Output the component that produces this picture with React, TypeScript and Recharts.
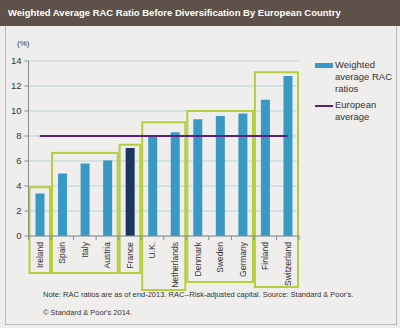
import { ComposedChart, Bar, Line, XAxis, YAxis, CartesianGrid, ReferenceArea, Cell } from 'recharts'

const countries = ['Ireland', 'Spain', 'Italy', 'Austria', 'France', 'U.K.', 'Netherlands', 'Denmark', 'Sweden', 'Germany', 'Finland', 'Switzerland']
const racRatios = [3.4, 5.0, 5.8, 6.05, 7.05, 8.0, 8.3, 9.35, 9.6, 9.8, 10.9, 12.8]
const europeanAverage = [8, 8, 8, 8, 8, 8, 8, 8, 8, 8, 8, 8]
const yTicks = [0, 2, 4, 6, 8, 10, 12, 14]
const highlighted = 'France'

// country groupings outlined in green
const groupFrom = ['Ireland', 'Spain', 'France', 'U.K.', 'Denmark', 'Finland']
const groupTo = ['Ireland', 'Austria', 'France', 'Netherlands', 'Germany', 'Switzerland']
const groupTop = [3.9, 6.65, 7.3, 9.1, 10.0, 13.1]

// how far (px) each box reaches under the axis, to wrap the labels
const groupDepth = [37, 37, 37, 54, 46, 51]

const BLUE = '#3a98c5'
const NAVY = '#1d365f'
const PURPLE = '#5b1f80'
const GREEN = '#b6cd3e'
const FONT = '"Liberation Sans", Arial, sans-serif'

const PLOT_LEFT = 28.5
const PLOT_RIGHT = 299
const BAND = (PLOT_RIGHT - PLOT_LEFT) / countries.length
const AXIS_Y = 236

const data = countries.map((name, i) => ({ name, rac: racRatios[i], avg: europeanAverage[i] }))

function CountryTick(props: any) {
  const { x, payload, index } = props
  const left = x - BAND / 2
  return (
    <g>
      <line x1={left} x2={left} y1={AXIS_Y} y2={AXIS_Y + 4} stroke="#8a8a8a" />
      {index === countries.length - 1 && (
        <line x1={x + BAND / 2} x2={x + BAND / 2} y1={AXIS_Y} y2={AXIS_Y + 4} stroke="#8a8a8a" />
      )}
      <text
        x={x}
        y={AXIS_Y + 6}
        transform={`rotate(-90 ${x} ${AXIS_Y + 6})`}
        textAnchor="end"
        dominantBaseline="central"
        fontSize={8.5}
        fontFamily={FONT}
        fill="#333"
      >
        {payload.value}
      </text>
    </g>
  )
}

function GroupBox(depth: number) {
  return (props: any) => {
    const { x, y, width, height } = props
    return (
      <rect
        x={x + 1}
        y={y}
        width={width - 2}
        height={height + depth}
        fill="none"
        stroke={GREEN}
        strokeWidth={2}
      />
    )
  }
}

export default function App() {
  return (
    <div style={{ position: 'absolute', left: 0, top: 0, width: 400, height: 328, background: '#efeeec', overflow: 'hidden', fontFamily: FONT }}>
      <div style={{ height: 26, background: '#5e514a', color: '#fff', fontWeight: 'bold', fontSize: 9.5, lineHeight: '26px', paddingLeft: 8 }}>
        Weighted Average RAC Ratio Before Diversification By European Country
      </div>
      <div style={{ position: 'absolute', left: 5, top: 26, width: 390, height: 298, borderLeft: '1px solid #b8b8b8', borderRight: '1px solid #b8b8b8', borderBottom: '1px solid #b8b8b8' }} />
      <div style={{ position: 'absolute', left: 17, top: 39, fontSize: 8, color: '#333' }}>(%)</div>

      <div style={{ position: 'absolute', left: 0, top: 0 }}>
        <ComposedChart width={400} height={328} data={data} margin={{ top: 61, right: 101, bottom: 32, left: 0 }}>
          <CartesianGrid vertical={false} stroke="#b7d5da" />
          <XAxis
            dataKey="name"
            height={60}
            interval={0}
            tickLine={false}
            axisLine={{ stroke: '#8a8a8a' }}
            tick={<CountryTick />}
          />
          <YAxis
            width={PLOT_LEFT}
            domain={[0, 14]}
            ticks={yTicks}
            tickSize={4}
            tickMargin={3}
            axisLine={{ stroke: '#8a8a8a' }}
            tickLine={{ stroke: '#8a8a8a' }}
            tick={{ fontSize: 9.5, fill: '#333', fontFamily: FONT }}
          />
          <Bar dataKey="rac" barSize={9} isAnimationActive={false}>
            {data.map((d) => (
              <Cell key={d.name} fill={d.name === highlighted ? NAVY : BLUE} />
            ))}
          </Bar>
          <Line dataKey="avg" stroke={PURPLE} strokeWidth={2} dot={false} activeDot={false} isAnimationActive={false} />
          {groupFrom.map((from, i) => (
            <ReferenceArea
              key={from}
              x1={from}
              x2={groupTo[i]}
              y1={0}
              y2={groupTop[i]}
              ifOverflow="visible"
              shape={GroupBox(groupDepth[i])}
            />
          ))}
        </ComposedChart>
      </div>

      <div style={{ position: 'absolute', left: 315, top: 59, fontSize: 9.5, color: '#333', lineHeight: '12px' }}>
        <div style={{ display: 'flex' }}>
          <div style={{ width: 18, height: 5, background: BLUE, marginTop: 4, marginRight: 2, flexShrink: 0 }} />
          <div>Weighted<br />average RAC<br />ratios</div>
        </div>
        <div style={{ display: 'flex', marginTop: 4 }}>
          <div style={{ width: 18, height: 2, background: PURPLE, marginTop: 6, marginRight: 2, flexShrink: 0 }} />
          <div>European<br />average</div>
        </div>
      </div>

      <div style={{ position: 'absolute', left: 43, top: 290, fontSize: 7.5, color: '#333' }}>
        Note: RAC ratios are as of end-2013. RAC--Risk-adjusted capital. Source: Standard &amp; Poor's.
      </div>
      <div style={{ position: 'absolute', left: 43, top: 308, fontSize: 7.5, color: '#333' }}>
        © Standard &amp; Poor's 2014.
      </div>
    </div>
  )
}
